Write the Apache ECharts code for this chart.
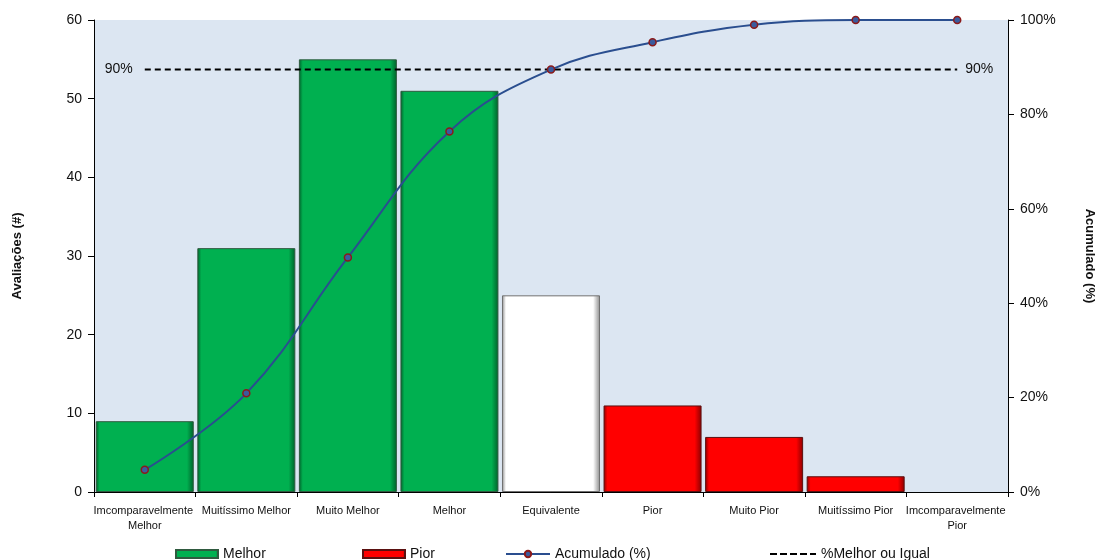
<!DOCTYPE html>
<html>
<head>
<meta charset="utf-8">
<script src="https://cdn.jsdelivr.net/npm/echarts@6/dist/echarts.min.js"></script>
<style>html,body{margin:0;padding:0;background:#fff;}#c{width:1097px;height:560px;}</style>
</head>
<body>
<div id="c"></div>
<script>
var categories = ['Imcomparavelmente Melhor','Muitíssimo Melhor','Muito Melhor','Melhor','Equivalente','Pior','Muito Pior','Muitíssimo Pior','Imcomparavelmente Pior'];
var melhor = [9, 31, 55, 51, '-', '-', '-', '-', '-'];
var equivalente = ['-', '-', '-', '-', 25, '-', '-', '-', '-'];
var pior = ['-', '-', '-', '-', '-', 11, 7, 2, 0];
var acumulado = [4.7, 20.9, 49.7, 76.4, 89.5, 95.3, 99.0, 100, 100];
var melhorOuIgual = [89.5, 89.5, 89.5, 89.5, 89.5, 89.5, 89.5, 89.5, 89.5];
var leftTicks = {min: 0, max: 60, interval: 10};
var rightTicks = {min: 0, max: 100, interval: 20};

function bevel(base, edge) {
  return new echarts.graphic.LinearGradient(0, 0, 1, 0, [
    {offset: 0, color: edge}, {offset: 0.04, color: base},
    {offset: 0.93, color: base}, {offset: 1, color: edge}
  ]);
}
function noZero(arr) {
  return arr.map(function (v) { return v === 0 ? {value: 0, itemStyle: {borderWidth: 0, opacity: 0}} : v; });
}
var font = 'Liberation Sans, Arial, sans-serif';
var legendText = {fontSize: 14, color: '#111'};
var dashIcon = 'path://M0,0h7v2h-7z M10,0h7v2h-7z M20,0h7v2h-7z M30,0h7v2h-7z M40,0h6v2h-6z';
var chart = echarts.init(document.getElementById('c'));
chart.setOption({
  animation: false,
  textStyle: {fontFamily: font},
  grid: {left: 94, right: 89, top: 20, bottom: 68, show: true, backgroundColor: '#DCE6F2', borderWidth: 0,
         outerBoundsMode: 'none', containLabel: false},
  legend: [
    {data: [{name: 'Melhor', icon: 'rect'}], left: 170, top: 542, itemWidth: 42, itemHeight: 8, textStyle: legendText},
    {data: [{name: 'Pior', icon: 'rect'}], left: 357, top: 542, itemWidth: 42, itemHeight: 8, textStyle: legendText},
    {data: ['Acumulado (%)'], left: 500, top: 542, itemWidth: 44, itemHeight: 8, textStyle: legendText},
    {data: [{name: '%Melhor ou Igual', icon: dashIcon}], left: 765, top: 542, itemWidth: 46, itemHeight: 2, textStyle: legendText}
  ],
  xAxis: {
    type: 'category', data: categories,
    axisLine: {lineStyle: {color: '#000', width: 1}},
    axisTick: {show: true, length: 5, lineStyle: {color: '#000'}},
    axisLabel: {interval: 0, fontSize: 11, color: '#111', fontFamily: 'Liberation Sans Narrow, Arial Narrow, sans-serif', width: 104, overflow: 'break', margin: 11, lineHeight: 15}
  },
  yAxis: [
    {type: 'value', min: leftTicks.min, max: leftTicks.max, interval: leftTicks.interval,
     name: 'Avaliações (#)', nameLocation: 'middle', nameGap: 70, nameRotate: 90,
     nameTextStyle: {fontWeight: 'bold', fontSize: 13, color: '#111'},
     axisLine: {show: true, lineStyle: {color: '#000'}},
     axisTick: {show: true, length: 6, lineStyle: {color: '#000'}},
     splitLine: {show: false},
     axisLabel: {fontSize: 14, color: '#111', margin: 12}},
    {type: 'value', min: rightTicks.min, max: rightTicks.max, interval: rightTicks.interval, position: 'right',
     name: 'Acumulado (%)', nameLocation: 'middle', nameGap: 75, nameRotate: -90,
     nameTextStyle: {fontWeight: 'bold', fontSize: 13, color: '#111'},
     axisLine: {show: true, lineStyle: {color: '#000'}},
     axisTick: {show: true, length: 6, lineStyle: {color: '#000'}},
     splitLine: {show: false},
     axisLabel: {fontSize: 14, color: '#111', margin: 12, formatter: '{value}%'}}
  ],
  series: [
    {name: 'Melhor', type: 'bar', stack: 'b', data: melhor, barCategoryGap: '3.5%',
     itemStyle: {color: bevel('#00B050', '#00602a'), borderColor: '#2f5a3f', borderWidth: 1}},
    {name: 'Equivalente', type: 'bar', stack: 'b', data: equivalente,
     itemStyle: {color: bevel('#FFFFFF', '#8c8c8c'), borderColor: '#707070', borderWidth: 1}},
    {name: 'Pior', type: 'bar', stack: 'b', data: noZero(pior),
     itemStyle: {color: bevel('#FF0000', '#8a0000'), borderColor: '#5a1010', borderWidth: 1}},
    {name: 'Acumulado (%)', type: 'line', yAxisIndex: 1, data: acumulado, smooth: 0.4,
     symbol: 'circle', symbolSize: 7,
     lineStyle: {color: '#2A4E8F', width: 2},
     itemStyle: {color: '#3A5B9E', borderColor: '#8B1A1A', borderWidth: 1.5}, z: 5},
    {name: '%Melhor ou Igual', type: 'line', yAxisIndex: 1, data: melhorOuIgual,
     symbol: 'none', lineStyle: {color: '#000', width: 2, type: [6, 4]}, itemStyle: {color: '#000'}, z: 4,
     endLabel: {show: true, formatter: '90%', fontSize: 14, color: '#111', distance: 8},
     markPoint: {
       symbol: 'circle', symbolSize: 0, silent: true,
       label: {show: true, position: 'left', formatter: '90%', fontSize: 14, color: '#111', distance: 12},
       data: [{coord: [0, melhorOuIgual[0]]}]
     }}
  ]
});
</script>
</body>
</html>
